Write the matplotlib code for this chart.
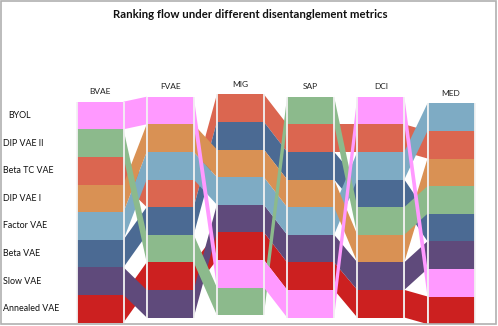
import matplotlib
matplotlib.use("Agg")
import matplotlib.pyplot as plt
from matplotlib.patches import Rectangle

# ---------------- data ----------------
metrics = ["BVAE", "FVAE", "MIG", "SAP", "DCI", "MED"]
methods = ["BYOL", "DIP VAE II", "Beta TC VAE", "DIP VAE I",
           "Factor VAE", "Beta VAE", "Slow VAE", "Annealed VAE"]
# rank (1 = top) of each method under each metric
rank_byol      = [1, 1, 7, 8, 1, 7]
rank_dipvae2   = [2, 6, 8, 1, 5, 4]
rank_betatc    = [3, 4, 1, 2, 2, 2]
rank_dipvae1   = [4, 2, 3, 4, 6, 3]
rank_factor    = [5, 3, 4, 5, 3, 1]
rank_betavae   = [6, 5, 2, 3, 4, 5]
rank_slow      = [7, 8, 5, 6, 7, 6]
rank_annealed  = [8, 7, 6, 7, 8, 8]
ranks = [rank_byol, rank_dipvae2, rank_betatc, rank_dipvae1,
         rank_factor, rank_betavae, rank_slow, rank_annealed]

# ---------------- style ----------------
colors = ["#FF99FF", "#8CBA8C", "#DB6650", "#D99154",
          "#7EABC4", "#4B6A93", "#5F4A7B", "#CC2020"]
# drawing priority of connecting bands (higher = on top)
band_z = [10, 9, 3, 8, 7, 5, 6, 2]
col_top = [101.7, 96.7, 94.3, 96.7, 96.7, 103.3]   # top of each column (px)
seg_h = 27.6
bar_w = 47
x0, dx = 100, 70.2

plt.rcParams['font.family'] = ['Lato', 'DejaVu Sans']

fig = plt.figure(figsize=(4.98, 3.26), dpi=100)
ax = fig.add_axes([0, 0, 1, 1])
ax.set_xlim(0, 498)
ax.set_ylim(326, 0)
ax.axis("off")

xs = [x0 + i * dx for i in range(len(metrics))]

# bars
for m, (rk, c) in enumerate(zip(ranks, colors)):
    for i, r in enumerate(rk):
        ax.bar(xs[i], seg_h, bottom=col_top[i] + (r - 1) * seg_h, width=bar_w,
               color=c, edgecolor="none", linewidth=0, zorder=20)

# white edges on bars
for i in range(len(metrics)):
    for side in (-1, 1):
        ax.plot([xs[i] + side * bar_w / 2] * 2,
                [col_top[i], col_top[i] + len(methods) * seg_h],
                color="#f2f2f2", lw=1.3, zorder=21, solid_capstyle="butt")

# connecting bands
for m, (rk, c) in enumerate(zip(ranks, colors)):
    for i in range(len(metrics) - 1):
        xa = xs[i] + bar_w / 2
        xb = xs[i + 1] - bar_w / 2
        ya = col_top[i] + (rk[i] - 1) * seg_h
        yb = col_top[i + 1] + (rk[i + 1] - 1) * seg_h
        ax.fill([xa, xb, xb, xa], [ya, yb, yb + seg_h, ya + seg_h],
                color=c, lw=0, zorder=band_z[m])

# column headers
for i, name in enumerate(metrics):
    ax.text(xs[i], col_top[i] - 10, name, ha="center", va="center",
            fontsize=6, color="#222222", zorder=30)

# row labels aligned with first column
for m, name in enumerate(methods):
    r = ranks[m][0]
    xl = 8 if name == "BYOL" else 3
    ax.text(xl, col_top[0] + (r - 0.5) * seg_h, name, ha="left", va="center",
            fontsize=6.4, color="#111111", zorder=30)

ax.text(250, 14, "Ranking flow under different disentanglement metrics",
        ha="center", va="center", fontsize=8.2, fontweight="bold", color="#111111")

# frame
fig.patches.append(Rectangle((0.002, 0.006), 0.994, 0.99, transform=fig.transFigure,
                             fill=False, edgecolor="#b0b0b0", lw=1.2, zorder=50))

fig.savefig("out.png", dpi=100)
